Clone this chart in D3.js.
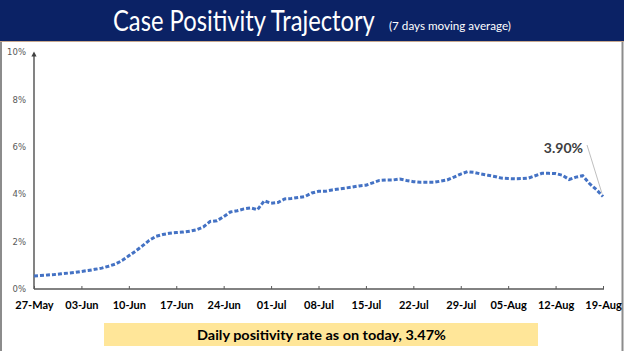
<!DOCTYPE html>
<html><head><meta charset="utf-8">
<script src="https://cdn.jsdelivr.net/npm/d3@7"></script>
<style>html,body{margin:0;padding:0;background:#fff;}svg{display:block;}</style>
</head><body>
<svg id="c" width="624" height="351"></svg>
<script>
const startDate = "2020-05-27";
const endDate = "2020-08-19";
// 7-day moving average case positivity (%) for each day 27-May .. 19-Aug
const positivity = [
 0.55,0.57,0.59,0.61,0.64,0.67,0.70,
 0.74,0.78,0.83,0.88,0.96,1.05,1.20,
 1.40,1.60,1.82,2.05,2.22,2.30,2.35,
 2.38,2.40,2.44,2.50,2.62,2.85,2.88,
 3.05,3.25,3.30,3.38,3.42,3.35,3.72,
 3.62,3.65,3.80,3.82,3.86,3.90,4.05,
 4.12,4.12,4.18,4.22,4.26,4.30,4.35,
 4.38,4.48,4.58,4.60,4.60,4.64,4.58,
 4.53,4.50,4.50,4.50,4.55,4.60,4.72,
 4.85,4.95,4.92,4.85,4.80,4.75,4.68,
 4.66,4.65,4.66,4.68,4.78,4.88,4.88,
 4.87,4.80,4.62,4.72,4.78,4.45,4.20,
 3.90
];
const yTicks = [0,2,4,6,8,10];
const titleText = "Case Positivity Trajectory";
const subtitleText = "(7 days moving average)";
const lastLabel = "3.90%";
const footerText = "Daily positivity rate as on today, 3.47%";

const parse = d3.timeParse("%Y-%m-%d");
const d0 = parse(startDate), d1 = parse(endDate);
const data = positivity.map((v,i)=>({date:d3.timeDay.offset(d0,i), v}));

const svg = d3.select("#c");
const FONT = "Lato, 'Open Sans', sans-serif";

// fit text to a width by choosing font size, then stretch vertically to a target size
function fitText(sel, targetW, targetFs, baseX, baseY){
  sel.attr("font-size", targetFs + "px");
  const w = sel.node().getComputedTextLength();
  const fs = targetFs * targetW / w;
  sel.attr("font-size", fs + "px").attr("x", 0).attr("y", 0);
  const sy = Math.min(targetFs / fs, 1.25);
  sel.attr("transform", `translate(${baseX},${baseY}) scale(1,${sy})`);
}

// title bar
svg.append("rect").attr("x",0).attr("y",0).attr("width",624).attr("height",41).attr("fill","#0b2265");
svg.append("line").attr("x1",0).attr("x2",624).attr("y1",41.5).attr("y2",41.5).attr("stroke","#c8a98f").attr("stroke-width",1);
// frame
svg.append("line").attr("x1",1).attr("x2",1).attr("y1",42).attr("y2",351).attr("stroke","#8c8c8c").attr("stroke-width",2);
svg.append("line").attr("x1",622.5).attr("x2",622.5).attr("y1",42).attr("y2",351).attr("stroke","#8c8c8c").attr("stroke-width",2);

const t1 = svg.append("text").attr("fill","#fff").style("font-family",FONT).text(titleText);
fitText(t1, 262, 28, 113, 31);
const t2 = svg.append("text").attr("fill","#fff").style("font-family",FONT).text(subtitleText);
fitText(t2, 122, 12, 389, 30);

const x = d3.scaleTime().domain([d0,d1]).range([34,603]);
const y = d3.scaleLinear().domain([0,10]).range([289,52]);

// y axis
const defs = svg.append("defs");
defs.append("marker").attr("id","arr").attr("viewBox","0 0 10 10").attr("refX",5).attr("refY",5)
  .attr("markerWidth",4).attr("markerHeight",4).attr("orient","auto")
  .append("path").attr("d","M0,0 L10,5 L0,10 z").attr("fill","#404040");
const ya = svg.append("g").attr("transform","translate(34,0)")
  .call(d3.axisLeft(y).tickValues(yTicks).tickSize(0).tickPadding(8).tickFormat(d=>d+"%"));
ya.select(".domain").remove();
ya.append("line").attr("x1",0).attr("x2",0).attr("y1",289).attr("y2",54)
  .attr("stroke","#404040").attr("stroke-width",1.3).attr("marker-end","url(#arr)");
ya.selectAll("text").attr("fill","#595959").attr("font-size","8.5px").style("font-family","'DejaVu Sans', sans-serif");

// x axis
const xa = svg.append("g").attr("transform","translate(0,289)")
  .call(d3.axisBottom(x).tickValues(d3.range(0,85,7).map(i=>d3.timeDay.offset(d0,i)))
    .tickSize(-3).tickPadding(10).tickFormat(d3.timeFormat("%d-%b")));
xa.select(".domain").attr("stroke","#595959").attr("stroke-width",1.3).attr("d","M34,0H604");
xa.selectAll(".tick line").attr("stroke","#595959").attr("stroke-width",1);
xa.selectAll("text").attr("fill","#000").attr("font-size","11px").attr("font-weight","bold")
  .attr("dy","0.9em").style("font-family",FONT);

// line
const line = d3.line().x(d=>x(d.date)).y(d=>y(d.v));
svg.append("path").datum(data).attr("d",line).attr("fill","none")
  .attr("stroke","#4472c4").attr("stroke-width",3).attr("stroke-dasharray","4,2");

// annotation
const last = data[data.length-1];
svg.append("line").attr("x1",587).attr("y1",145).attr("x2",x(last.date)-1).attr("y2",y(last.v)-3)
  .attr("stroke","#bfbfbf").attr("stroke-width",1);
svg.append("text").attr("x",583).attr("y",153).attr("text-anchor","end").attr("fill","#404040")
  .attr("font-size","14px").attr("font-weight","bold").style("font-family",FONT).text(lastLabel);

// footer box
svg.append("rect").attr("x",104).attr("y",323).attr("width",434).attr("height",23).attr("fill","#ffe699");
const ft = svg.append("text").attr("fill","#000").attr("font-weight","bold").style("font-family",FONT).text(footerText);
fitText(ft, 249, 14, 197, 340);
</script>
</body></html>
